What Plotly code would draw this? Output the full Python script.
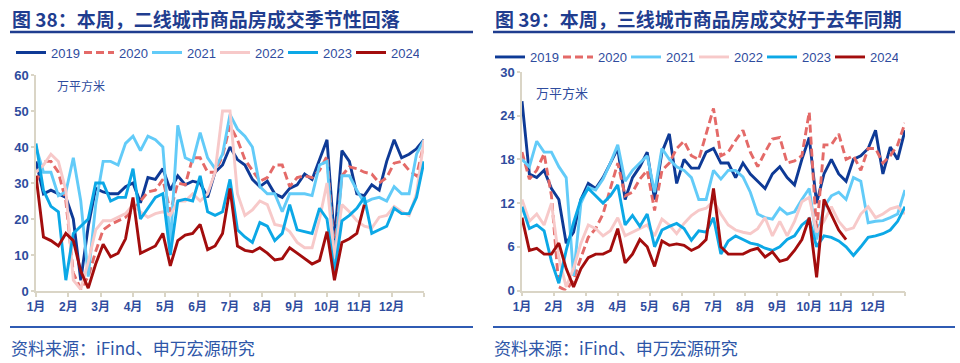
import plotly.graph_objects as go

# ---------------- data (weekly readings, 万平方米) ----------------
months = ["1月", "2月", "3月", "4月", "5月", "6月", "7月", "8月", "9月", "10月", "11月", "12月"]
years = ["2019", "2020", "2021", "2022", "2023", "2024"]
week_index = list(range(53))

# second-tier cities
t2_2019 = [36, 27, 28, 27, 26, 20, 3, 18, 28.5, 27.5, 27, 27, 29, 30, 24.5, 31.5, 31, 34, 28, 32, 29.5, 30.5, 30, 26, 33, 35, 40,
           36.5, 35, 31, 29, 30.5, 27, 26, 28.5, 29.5, 32.5, 31, 36.5, 42, 14, 39, 36, 27, 26.5, 29.5, 28, 36, 42, 37, 38, 39.5, 42]
t2_2020 = [30, 36, 36, 33, 25, 5, 0.5, 4, 11, 17, 18.5, 19.5, 20.5, 22.5, 25, 27.5, 28, 31, 22, 30, 29.5, 37, 37, 33, 33, 37.5, 46,
           42, 36.5, 33.5, 30.5, 31.5, 35, 35, 29, 31.5, 32, 31.5, 33.5, 37.5, 11, 32, 34.5, 34, 33, 32.5, 30, 31.5, 35.5, 36, 33.5, 32, 41]
t2_2021 = [40, 33, 33, 26.5, 27.5, 37, 25, 4, 24, 36, 36, 35, 41, 43, 39, 43, 42, 40, 13, 46, 37, 36, 44, 37, 34, 38, 49,
           45, 43, 40, 29, 27, 27, 22, 27, 27, 27, 26.5, 35, 36, 8, 32, 32, 28, 24.5, 25.5, 26, 25, 29, 27, 27, 38, 42]
t2_2022 = [33, 35, 38, 36, 28, 3, 0.5, 8, 17, 19.5, 19.5, 20.5, 21.5, 24, 22, 20.5, 21.5, 22, 21, 25, 25, 27, 25, 27, 33, 50, 50,
           27, 21, 22.5, 25, 24, 18.5, 18, 16.5, 13.5, 12, 12, 20, 30, 9, 24, 22, 19.5, 18, 17.5, 20.5, 21, 23.5, 22, 21, 27, 42]
t2_2023 = [41, 28, 23.5, 22, 3, 16, 18, 20, 30, 30, 25, 26, 26, 34, 20, 23, 26, 27, 10, 25, 25.5, 25, 32, 22, 21, 22, 31,
           17, 15, 13.5, 19, 18, 14, 16, 24, 17, 16.5, 16, 23, 20, 5, 19.5, 21, 23, 26, 16, 17, 18, 23, 21.5, 21.5, 26, 36]
t2_2024 = [32, 15, 14, 12.5, 16, 14, 5.5, 0.8, 7.5, 13, 9.5, 10.5, 14.5, 26, 10.5, 11.5, 12.5, 16, 7, 14, 15.5, 16, 18.5, 11.5, 12.5, 16, 28.5,
           12.5, 11.3, 10.9, 12, 10.5, 8.6, 9, 12, 10.5, 9, 7.5, 8.5, 16.5, 3, 13.5, 14.5, 16, 24]

# third-tier cities
t3_2019 = [26, 16, 15.5, 16.5, 14, 12.5, 6.5, 8, 12.5, 14.7, 14, 15.5, 17.5, 19.5, 12.5, 15.5, 17, 19, 12.5, 19, 21.5, 14.7, 18, 16.8, 16.8, 19, 19.5,
           17.5, 17.5, 15.5, 17.5, 16, 15, 14, 16, 17, 15.5, 14.5, 18, 21, 12, 16, 18, 16, 15, 18, 18.5, 19.5, 22, 16, 19.7, 18, 22]
t3_2020 = [19, 15.3, 16.5, 18.8, 13, 0.5, 0, 1.5, 4.5, 7.3, 8.5, 10.5, 14, 17.5, 13, 13.5, 15.3, 16.5, 11, 16.5, 17.5, 19.5, 20.5, 18.5, 18, 21.5, 25,
           18.5, 19, 20.6, 22, 19, 17, 19, 20.8, 21, 17.5, 17.8, 18.5, 24.5, 8, 20, 20, 21.5, 18, 18.5, 16.5, 19.5, 19.5, 17.5, 18.5, 20, 23]
t3_2021 = [18, 17, 20.5, 19, 19, 17, 15.5, 2, 12, 14.2, 13.8, 15.3, 17.5, 20, 15, 16.5, 17.5, 18.5, 13.5, 19.5, 18, 17, 16.5, 15.5, 12.5, 12.5, 16.5,
           15.3, 16.5, 16.5, 15.6, 13.5, 10.5, 10, 9.8, 11.3, 10.5, 10.8, 12.5, 14, 7, 11.5, 13, 13.5, 12.5, 15.5, 15, 9.3, 9.5, 9.6, 10, 10.5, 13.8]
t3_2022 = [12.5, 9.5, 10.5, 9, 12, 4.5, 0.5, 3, 6.5, 9, 8.5, 7.5, 8.2, 10, 7.5, 8, 8.5, 9, 7.5, 9.8, 9, 7.8, 9.2, 10.3, 11, 11.3, 12.3,
           10.5, 9, 8.3, 8, 7.8, 8.5, 10, 7.5, 9.5, 7.5, 9.5, 12.2, 12.8, 8, 9.5, 11.5, 9.5, 8.3, 8.6, 10.5, 11.5, 10, 10.5, 11.2, 11.5, 10.5]
t3_2023 = [11.5, 8.5, 9, 8.2, 4, 1, 5.5, 9.3, 12.5, 14, 13, 12, 13, 14.5, 9, 10.3, 8.8, 10.5, 6, 8.3, 8.8, 9.2, 8.5, 6.9, 8.2, 8, 10,
           5, 6.8, 7.5, 7, 6.5, 6.3, 5.8, 5.5, 6, 7, 7.5, 9, 9.8, 6, 7.5, 7.3, 6.8, 6, 4.8, 6, 7.3, 7.5, 7.8, 8.3, 9.5, 11.5]
t3_2024 = [10, 5.5, 5.8, 5, 5, 6.5, 3, 0.5, 3, 4.5, 5, 5, 5.5, 8.5, 3.8, 5, 7, 6, 3.3, 6.8, 6.2, 6.4, 6.2, 5.5, 6, 7, 14,
           6, 5, 5, 5, 5.5, 5.8, 4.6, 5.3, 4, 4.3, 5.5, 7, 10, 1.8, 12.5, 10.5, 8.3, 7]

tier2 = [t2_2019, t2_2020, t2_2021, t2_2022, t2_2023, t2_2024]
tier3 = [t3_2019, t3_2020, t3_2021, t3_2022, t3_2023, t3_2024]

# ---------------- styles ----------------
W, H = 960, 363
line_colors = ["#0E3A96", "#E46A68", "#62CBF8", "#F7C9C9", "#0CA8E6", "#A30D0D"]
line_dash = ["solid", "8px,4px", "solid", "solid", "solid", "solid"]
navy = "#1F3D8F"
txt_blue = "#2F4C9E"
axis_col = "#DAD5C6"
font_cjk = "Noto Sans CJK SC"
font_lat = "Arial, Liberation Sans, Noto Sans CJK SC"


def px_x(p):
    return p / W


def px_y(p):
    return 1 - p / H


fig = go.Figure()

x_month = [w * 12 / 52 for w in week_index]

for k, yr in enumerate(years):
    fig.add_trace(go.Scatter(
        x=x_month[:len(tier2[k])], y=tier2[k], mode="lines", name=yr,
        line=dict(color=line_colors[k], width=2.9, dash=line_dash[k]),
        xaxis="x", yaxis="y", legend="legend", hoverinfo="skip"))
for k, yr in enumerate(years):
    fig.add_trace(go.Scatter(
        x=x_month[:len(tier3[k])], y=tier3[k], mode="lines", name=yr,
        line=dict(color=line_colors[k], width=2.9, dash=line_dash[k]),
        xaxis="x2", yaxis="y2", legend="legend2", hoverinfo="skip"))

tickfont = dict(family=font_lat, size=12, color=txt_blue, weight="bold")
common_x = dict(range=[0, 12], tickmode="array", tickvals=list(range(13)),
                ticktext=months + [""], showline=True, linecolor=axis_col, linewidth=1.5,
                ticks="outside", ticklen=4, tickcolor=axis_col, tickwidth=1.5,
                showgrid=False, zeroline=False, tickfont=tickfont, fixedrange=True,
                automargin=False)
common_y = dict(showline=True, linecolor=axis_col, linewidth=1.5, ticks="outside",
                ticklen=3, tickcolor=axis_col, tickwidth=1.5, showgrid=False,
                zeroline=False, tickfont=dict(family=font_lat, size=13, color=txt_blue, weight="bold"),
                fixedrange=True, automargin=False)

legend_font = dict(family=font_lat, size=13, color=txt_blue)
fig.update_layout(
    width=W, height=H, margin=dict(l=0, r=0, t=0, b=0, autoexpand=False),
    paper_bgcolor="white", plot_bgcolor="white",
    xaxis=dict(domain=[px_x(36), px_x(424)], anchor="y", **common_x),
    yaxis=dict(domain=[px_y(291), px_y(75)], range=[0, 60], dtick=10, anchor="x", **common_y),
    xaxis2=dict(domain=[px_x(522), px_x(905)], anchor="y2", **common_x),
    yaxis2=dict(domain=[px_y(290.5), px_y(72)], range=[0, 30], dtick=6, anchor="x2", **common_y),
    legend=dict(orientation="h", x=px_x(11), y=px_y(52.5), xanchor="left", yanchor="middle",
                font=legend_font, itemwidth=30, entrywidth=23,
                bgcolor="rgba(0,0,0,0)", traceorder="normal"),
    legend2=dict(orientation="h", x=px_x(490), y=px_y(57), xanchor="left", yanchor="middle",
                 font=legend_font, itemwidth=30, entrywidth=23,
                 bgcolor="rgba(0,0,0,0)", traceorder="normal"),
    showlegend=True,
)

annotations = [
    dict(text="图 38：本周，二线城市商品房成交季节性回落", x=px_x(10), y=px_y(18),
         xanchor="left", yanchor="middle", font=dict(family=font_cjk, size=19, color=navy, weight="bold")),
    dict(text="图 39：本周，三线城市商品房成交好于去年同期", x=px_x(493), y=px_y(18),
         xanchor="left", yanchor="middle", font=dict(family=font_cjk, size=19, color=navy, weight="bold")),
    dict(text="万平方米", x=px_x(55), y=px_y(86), xanchor="left", yanchor="middle",
         font=dict(family=font_cjk, size=12, color=txt_blue)),
    dict(text="万平方米", x=px_x(534), y=px_y(92), xanchor="left", yanchor="middle",
         font=dict(family=font_cjk, size=13, color=txt_blue)),
    dict(text="资料来源：iFind、申万宏源研究", x=px_x(9), y=px_y(347), xanchor="left", yanchor="middle",
         font=dict(family=font_cjk, size=17, color="#2E56A8")),
    dict(text="资料来源：iFind、申万宏源研究", x=px_x(492), y=px_y(347), xanchor="left", yanchor="middle",
         font=dict(family=font_cjk, size=17, color="#2E56A8")),
]
for a in annotations:
    a.update(xref="paper", yref="paper", showarrow=False)
fig.update_layout(annotations=annotations)

shapes = [
    dict(type="line", x0=px_x(10), x1=px_x(473), y0=px_y(32), y1=px_y(32), line=dict(color=navy, width=2.5)),
    dict(type="line", x0=px_x(493), x1=px_x(955), y0=px_y(32), y1=px_y(32), line=dict(color=navy, width=2.5)),
    dict(type="line", x0=px_x(10), x1=px_x(473), y0=px_y(327), y1=px_y(327), line=dict(color="#2F5BB3", width=2)),
    dict(type="line", x0=px_x(493), x1=px_x(955), y0=px_y(327), y1=px_y(327), line=dict(color="#2F5BB3", width=2)),
]
for s in shapes:
    s.update(xref="paper", yref="paper")
fig.update_layout(shapes=shapes)

fig.write_html("out.html", config={"displayModeBar": False},
               post_script="document.body.style.margin='0';document.body.style.padding='0';")
